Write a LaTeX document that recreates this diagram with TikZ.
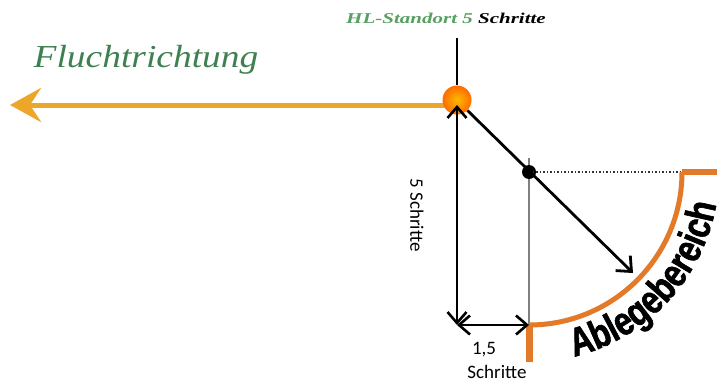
\documentclass[tikz,border=0pt]{standalone}
\usepackage{fontspec}
\setmainfont{Liberation Serif}
\newfontfamily\calfont{Carlito}
\newfontfamily\ablfont{Liberation Sans Bold}[FakeStretch=0.8, FakeBold=1.5]
\usetikzlibrary{arrows.meta, decorations.text}
\definecolor{fluchtgreen}{RGB}{62,128,80}
\definecolor{hlgreen}{RGB}{88,160,98}
\definecolor{escapeorange}{RGB}{236,166,40}
\definecolor{zoneorange}{RGB}{226,122,42}
\tikzset{
  heading/.style={inner sep=0pt, font=\bfseries\itshape\fontsize{15}{18}\selectfont},
  flucht/.style={inner sep=0pt, text=fluchtgreen, font=\itshape\fontsize{32}{34}\selectfont},
  note/.style={inner sep=0pt, font=\calfont\fontsize{19}{22}\selectfont},
  escape/.style={-{Stealth[length=31pt, width=34pt, inset=11pt]}, line width=5pt, escapeorange},
  measure/.style={{Straight Barb[length=11pt, width=19pt]}-{Straight Barb[length=11pt, width=19pt]}, line width=2.6pt},
  push/.style={-{Straight Barb[length=12pt, width=21pt]}, line width=2.8pt},
  zone/.style={zoneorange, line width=5pt},
  every node/.style={inner sep=0pt}
}

\begin{document}
\begin{tikzpicture}[x=1pt, y=-1pt]
    \useasboundingbox (0,0) rectangle (717,383);
    % Helfer und Fluchtrichtung
    \node[heading] (title) at (446,18) {\scalebox{1.4}[1]{\textcolor{hlgreen}{HL-Standort 5} Schritte}};
    \node[flucht] (flucht) at (146,60) {\scalebox{1.17}[1]{Fluchtrichtung}};
    \coordinate (titlefoot) at (457,38);
    \coordinate (escstart) at (445,105);
    \coordinate (escend) at (10,105);
    \draw[escape] (escstart) -- (escend);
    \node[circle, minimum size=29pt, shading=radial, inner color=orange!55!yellow, outer color=orange!85!red] (hl) at (457,100) {};
    \draw[line width=1.4pt] (titlefoot) -- (hl.north);
    % Ablegebereich
    \coordinate (hlbase) at (457,105);
    \coordinate (corner) at (457,325);
    \coordinate (zonefoot) at (529,325);
    \coordinate (graytop) at (529,158);
    \coordinate (zonetop) at (682,172);
    \coordinate (footend) at (529,362);
    \coordinate (rightend) at (717,172);
    \coordinate (target) at (633,273);
    \draw[gray, line width=1.5pt] (graytop) -- (zonefoot);
    \node[circle, fill=black, minimum size=14pt] (drop) at (529,172) {};
    \draw[dotted, line width=1.5pt, black!80] (drop.center) -- (zonetop);
    \draw[zone] (zonefoot) arc[start angle=90, end angle=0, radius=153];
    \draw[zone, line width=7pt] (zonefoot) -- (footend);
    \draw[zone, line width=6pt] (zonetop) -- (rightend);
    \path[decorate, decoration={text along path, text align=center,
        text={|\ablfont\fontsize{40}{40}\selectfont|Ablegebereich}}]
        (529,172) ++(82:190) arc[start angle=82, end angle=4, radius=190];
    % Masse
    \draw[measure] (hlbase) -- (corner);
    \draw[measure] (corner) -- (zonefoot);
    \draw[push] (hl.-45) -- (target);
    \node[note, rotate=-90] (vert) at (417,215) {5 Schritte};
    \node[note] (horiz) at (484,350) {1,5};
    \node[note] (horiz2) at (497,372) {Schritte};
\end{tikzpicture}
\end{document}
